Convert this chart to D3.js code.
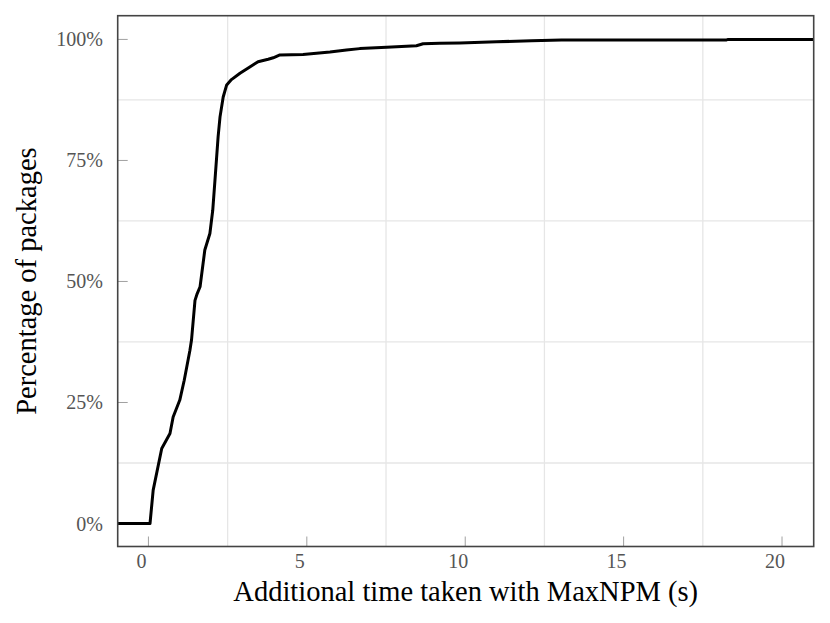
<!DOCTYPE html>
<html>
<head>
<meta charset="utf-8">
<script src="https://cdn.jsdelivr.net/npm/d3@7"></script>
<style>
  html, body { margin: 0; padding: 0; background: #fff; }
  svg { display: block; }
</style>
</head>
<body>
<svg id="chart" width="830" height="623"></svg>
<script>
// ---- data ----
const times = [-0.97, 0.05, 0.15, 0.42, 0.68, 0.78, 0.99, 1.13, 1.31, 1.36, 1.47, 1.54, 1.63,
  1.78, 1.94, 2.03, 2.10, 2.20, 2.26, 2.36, 2.47, 2.62, 2.89, 3.20, 3.46, 3.78, 3.94, 4.15,
  4.88, 5.73, 6.25, 6.67, 7.52, 8.46, 8.67, 9.20, 9.83, 10.99, 12.09, 13.04, 18.25, 18.30, 21.0];
const percents = [0, 0, 6.9, 15.5, 18.6, 22.0, 25.5, 29.6, 35.8, 37.9, 46.1, 47.5, 48.9,
  56.5, 59.9, 64.7, 70.9, 79.9, 84.0, 88.1, 90.6, 91.7, 93.0, 94.3, 95.4, 95.9, 96.2, 96.8,
  96.9, 97.4, 97.8, 98.1, 98.4, 98.7, 99.1, 99.2, 99.25, 99.5, 99.75, 99.87, 99.9, 100, 100];
const xTicks = [0, 5, 10, 15, 20];
const yTicks = [0, 25, 50, 75, 100];
const xGrid = [2.5, 7.5, 12.5, 17.5];
const yGrid = [12.5, 37.5, 62.5, 87.5];
const xLabel = "Additional time taken with MaxNPM (s)";
const yLabel = "Percentage of packages";

// ---- layout ----
const pLeft = 117.7, pRight = 813.7, pTop = 15.7, pBottom = 546.5;
const x = d3.scaleLinear().domain([-0.97, 21.0]).range([pLeft, pRight]);
const y = d3.scaleLinear().domain([-4.75, 104.9]).range([pBottom, pTop]);

const svg = d3.select("#chart");
const font = "'Liberation Serif', 'DejaVu Serif', serif";

// grid
svg.append("g").selectAll("line").data(xGrid).join("line")
  .attr("x1", d => x(d)).attr("x2", d => x(d))
  .attr("y1", pTop).attr("y2", pBottom)
  .attr("stroke", "#e6e6e6").attr("stroke-width", 1.3);
svg.append("g").selectAll("line").data(yGrid).join("line")
  .attr("y1", d => y(d)).attr("y2", d => y(d))
  .attr("x1", pLeft).attr("x2", pRight)
  .attr("stroke", "#e6e6e6").attr("stroke-width", 1.3);

// ticks
svg.append("g").selectAll("line").data(xTicks).join("line")
  .attr("x1", d => x(d)).attr("x2", d => x(d))
  .attr("y1", pBottom).attr("y2", pBottom - 10)
  .attr("stroke", "#a0a0a0").attr("stroke-width", 1);
svg.append("g").selectAll("line").data(yTicks).join("line")
  .attr("y1", d => y(d)).attr("y2", d => y(d))
  .attr("x1", pLeft).attr("x2", pLeft + 10)
  .attr("stroke", "#a0a0a0").attr("stroke-width", 1);

// tick labels
svg.append("g").selectAll("text").data(xTicks).join("text")
  .attr("x", d => x(d) - 7).attr("y", 568)
  .attr("text-anchor", "middle")
  .attr("font-family", font).attr("font-size", 20).attr("fill", "#555")
  .text(d => d);
svg.append("g").selectAll("text").data(yTicks).join("text")
  .attr("x", 103).attr("y", d => y(d) + 7)
  .attr("text-anchor", "end")
  .attr("font-family", font).attr("font-size", 20).attr("fill", "#555")
  .text(d => d + "%");

// data line
const pts = times.map((t, i) => [t, percents[i]]);
const clipId = "plotclip";
svg.append("clipPath").attr("id", clipId).append("rect")
  .attr("x", pLeft).attr("y", pTop).attr("width", pRight - pLeft).attr("height", pBottom - pTop);
svg.append("path")
  .datum(pts)
  .attr("clip-path", `url(#${clipId})`)
  .attr("fill", "none").attr("stroke", "#000").attr("stroke-width", 3)
  .attr("stroke-linejoin", "round")
  .attr("d", d3.line().x(d => x(d[0])).y(d => y(d[1])));

// frame
svg.append("rect")
  .attr("x", pLeft).attr("y", pTop).attr("width", pRight - pLeft).attr("height", pBottom - pTop)
  .attr("fill", "none").attr("stroke", "#444").attr("stroke-width", 1.6);

// axis titles
svg.append("text")
  .attr("x", (pLeft + pRight) / 2).attr("y", 601)
  .attr("text-anchor", "middle")
  .attr("font-family", font).attr("font-size", 28.5).attr("fill", "#000")
  .text(xLabel);
svg.append("text")
  .attr("transform", `translate(36, ${(pTop + pBottom) / 2}) rotate(-90)`)
  .attr("text-anchor", "middle")
  .attr("font-family", font).attr("font-size", 28.5).attr("fill", "#000")
  .text(yLabel);
</script>
</body>
</html>
